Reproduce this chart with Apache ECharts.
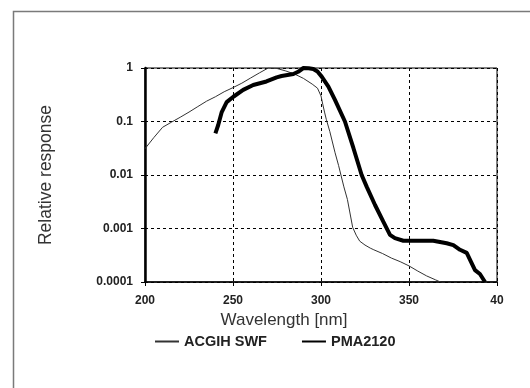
<!DOCTYPE html>
<html>
<head>
<meta charset="utf-8">
<script src="https://cdn.jsdelivr.net/npm/echarts@6/dist/echarts.min.js"></script>
<style>
html,body{margin:0;padding:0;background:#fff;}
#chart{width:530px;height:388px;}
</style>
</head>
<body>
<div id="chart"></div>
<script>
// Wavelength (nm) vs relative response
var xTicks = [200, 250, 300, 350, 400];
var xTickLabels = ['200', '250', '300', '350', '40'];
var yTicks = [0.0001, 0.001, 0.01, 0.1, 1];
var yTickLabels = ['0.0001', '0.001', '0.01', '0.1', '1'];
var seriesNames = ['ACGIH SWF', 'PMA2120'];

var acgihWl = [200, 205, 210, 215, 220, 225, 230, 235, 240, 245, 250, 255, 260, 265, 270, 275, 280, 285, 290, 295, 298, 300, 301, 302, 303, 305, 308, 310, 313, 315, 318, 320, 322, 325, 328, 330, 335, 340, 345, 350, 355, 360, 365, 370];
var acgihVal = [0.031, 0.05, 0.078, 0.097, 0.12, 0.15, 0.19, 0.24, 0.29, 0.36, 0.43, 0.52, 0.65, 0.81, 1.0, 0.98, 0.88, 0.77, 0.64, 0.5, 0.42, 0.3, 0.21, 0.15, 0.11, 0.065, 0.026, 0.015, 0.006, 0.0035, 0.00105, 0.00075, 0.00058, 0.00049, 0.00043, 0.0004, 0.00034, 0.00028, 0.00024, 0.0002, 0.00016, 0.00013, 0.00011, 0.000093];

var pmaWl = [240, 241.6, 243.6, 246.4, 250.2, 255.8, 261.5, 269, 274.8, 277.6, 284.3, 287, 290, 293, 295.6, 298, 300.4, 304.2, 308, 313.6, 318.4, 323.1, 326, 330.7, 335.4, 339.2, 342, 346.8, 355, 363.8, 371.4, 375.2, 379, 382.8, 384.7, 387.5, 390.3, 393.2];
var pmaVal = [0.06, 0.086, 0.15, 0.23, 0.29, 0.39, 0.48, 0.56, 0.67, 0.71, 0.77, 0.85, 1.0, 0.99, 0.96, 0.86, 0.69, 0.45, 0.25, 0.1, 0.032, 0.01, 0.006, 0.00275, 0.00134, 0.00076, 0.00066, 0.00059, 0.00059, 0.00059, 0.00053, 0.00049, 0.0004, 0.00035, 0.00026, 0.000167, 0.000141, 0.0001];

function zip(a, b) { return a.map(function (v, i) { return [v, b[i]]; }); }

var chart = echarts.init(document.getElementById('chart'), null, {renderer: 'canvas'});
var font = '"Liberation Sans", Arial, sans-serif';
chart.setOption({
  animation: false,
  backgroundColor: '#fff',
  graphic: [{
    type: 'rect',
    shape: {x: 13.5, y: 11.5, width: 700, height: 600},
    style: {fill: 'none', stroke: '#7a7a7a', lineWidth: 1.5},
    z: -1
  }],
  grid: {left: 145, top: 68, right: 33, bottom: 106, show: true, borderColor: '#000', borderWidth: 1, backgroundColor: 'transparent'},
  legend: {
    left: 149, top: 329,
    itemWidth: 24, itemHeight: 12, itemGap: 34,
    itemStyle: {color: 'rgba(0,0,0,0)', borderWidth: 0, borderColor: 'rgba(0,0,0,0)'},
    textStyle: {fontFamily: font, fontWeight: 'bold', fontSize: 14.5, color: '#222'},
    data: seriesNames
  },
  xAxis: {
    type: 'value', min: 200, max: 400, interval: 50,
    name: 'Wavelength [nm]', nameLocation: 'middle', nameGap: 30,
    nameTextStyle: {fontFamily: font, fontSize: 17, color: '#333', padding: [0, 74, 0, 0]},
    axisLine: {show: true, onZero: false, lineStyle: {color: '#000', width: 1.5}},
    axisTick: {show: true, length: 4, lineStyle: {color: '#000'}},
    axisLabel: {fontFamily: font, fontWeight: 'bold', fontSize: 12, color: '#222', margin: 13,
      formatter: function (v) { var i = xTicks.indexOf(v); return i >= 0 ? xTickLabels[i] : ''; }},
    splitLine: {show: true, lineStyle: {color: '#000', type: [3, 3], width: 1}}
  },
  yAxis: {
    type: 'log', logBase: 10, min: 0.0001, max: 1,
    name: 'Relative response', nameLocation: 'middle', nameGap: 90, nameRotate: 90,
    nameTextStyle: {fontFamily: font, fontSize: 17.5, color: '#333'},
    axisLine: {show: true, lineStyle: {color: '#000', width: 2.5}},
    axisTick: {show: true, length: 4, lineStyle: {color: '#000'}},
    axisLabel: {fontFamily: font, fontWeight: 'bold', fontSize: 12, color: '#222', margin: 12,
      formatter: function (v) {
        for (var i = 0; i < yTicks.length; i++) { if (Math.abs(Math.log10(v) - Math.log10(yTicks[i])) < 1e-6) return yTickLabels[i]; }
        return '';
      }},
    splitLine: {show: true, lineStyle: {color: '#000', type: [3, 3], width: 1}}
  },
  series: [
    {name: seriesNames[0], type: 'line', data: zip(acgihWl, acgihVal), symbol: 'none', clip: true,
      lineStyle: {color: '#333', width: 1}, itemStyle: {color: '#333'}},
    {name: seriesNames[1], type: 'line', data: zip(pmaWl, pmaVal), symbol: 'none', clip: true,
      lineStyle: {color: '#000', width: 4}, itemStyle: {color: '#000'}}
  ]
});
</script>
</body>
</html>
